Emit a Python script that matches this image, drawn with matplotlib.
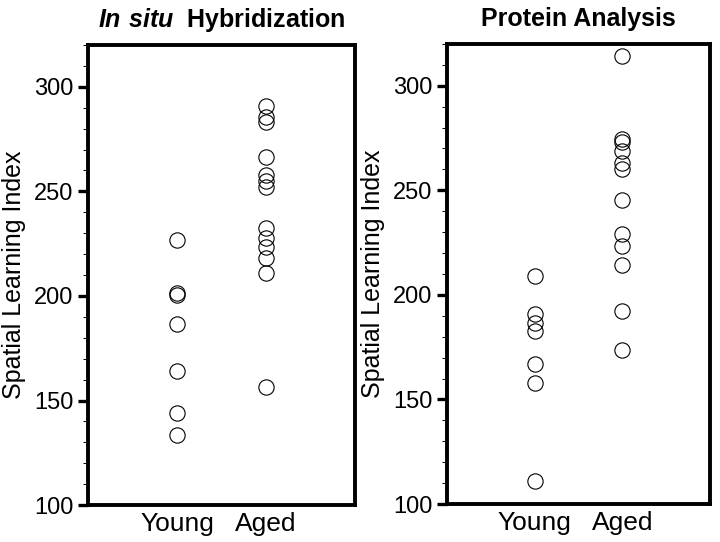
import matplotlib.pyplot as plt
import numpy as np
from matplotlib.ticker import MultipleLocator

plt.rcParams['font.family'] = ['Liberation Sans', 'DejaVu Sans']
plt.rcParams['mathtext.fontset'] = 'custom'
plt.rcParams['mathtext.rm'] = 'Liberation Sans'
plt.rcParams['mathtext.bfit'] = 'Liberation Sans:italic:bold'

groups = ["Young", "Aged"]

# In situ hybridization
insitu_young = [227, 201.3, 200.5, 186.8, 164.3, 143.9, 133.6]
insitu_aged = [291, 285.5, 283.2, 266.6, 258, 255, 252, 232.7, 227.9, 223.5, 218, 211.1, 156.3]

# Protein analysis
protein_young = [209.2, 191.1, 186.5, 182.9, 167, 158, 111.2]
protein_aged = [314.3, 274.5, 273, 269, 263, 260, 245.4, 228.9, 223.3, 214.1, 192.3, 173.8]

fig = plt.figure(figsize=(7.2, 5.42), dpi=100)
ax1 = fig.add_axes([0.1222, 0.068, 0.371, 0.849])
ax2 = fig.add_axes([0.621, 0.070, 0.365, 0.849])


def style(ax, young, aged):
    ax.plot(np.full(len(young), 1), young, 'o', ms=11, mfc='none', mec='black', mew=0.8)
    ax.plot(np.full(len(aged), 2), aged, 'o', ms=11, mfc='none', mec='black', mew=0.8)
    ax.set_xlim(0, 3)
    ax.set_ylim(100, 320)
    ax.set_xticks([1, 2])
    ax.set_xticklabels(groups, fontsize=19)
    ax.yaxis.set_major_locator(MultipleLocator(50))
    ax.yaxis.set_minor_locator(MultipleLocator(10))
    ax.tick_params(axis='x', length=0, pad=5)
    ax.tick_params(axis='y', which='major', length=7.5, width=2.4, labelsize=17, pad=3)
    ax.tick_params(axis='y', which='minor', length=3.5, width=0.7)
    for s in ax.spines.values():
        s.set_linewidth(2.8)
    ax.set_ylabel("Spatial Learning Index", fontsize=18, labelpad=6)


style(ax1, insitu_young, insitu_aged)
style(ax2, protein_young, protein_aged)

ax1.set_title(r"$\mathbfit{In\ situ}$  Hybridization", fontsize=18, fontweight='bold', pad=13)
ax2.set_title("Protein Analysis", fontsize=18, fontweight='bold', pad=13)

fig.savefig("out.png", dpi=100)
